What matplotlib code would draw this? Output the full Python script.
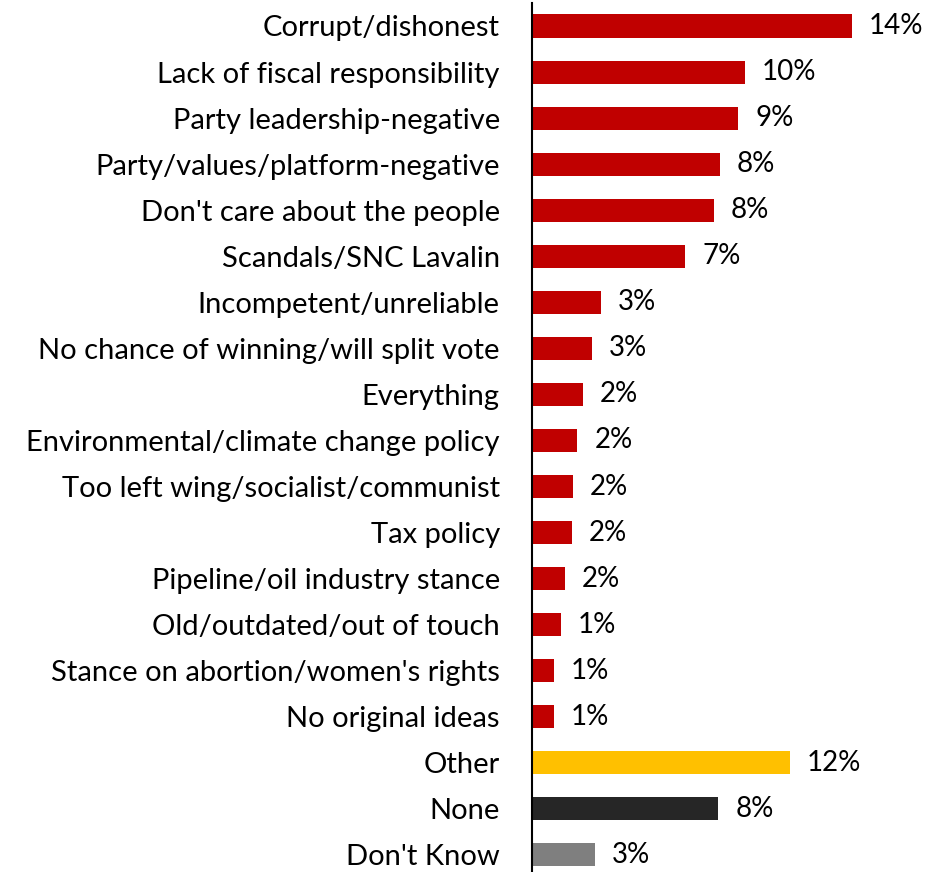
import matplotlib
import matplotlib.pyplot as plt

matplotlib.use('Agg')

categories = ['Corrupt/dishonest', 'Lack of fiscal responsibility', 'Party leadership-negative',
              'Party/values/platform-negative', "Don't care about the people", 'Scandals/SNC Lavalin',
              'Incompetent/unreliable', 'No chance of winning/will split vote', 'Everything',
              'Environmental/climate change policy', 'Too left wing/socialist/communist', 'Tax policy',
              'Pipeline/oil industry stance', 'Old/outdated/out of touch',
              "Stance on abortion/women's rights", 'No original ideas', 'Other', 'None', "Don't Know"]
values = [14.4, 9.6, 9.3, 8.45, 8.2, 6.9, 3.1, 2.7, 2.3, 2.05, 1.85, 1.8, 1.5, 1.3, 1.0, 1.0,
          11.6, 8.4, 2.85]
value_labels = ['14%', '10%', '9%', '8%', '8%', '7%', '3%', '3%', '2%', '2%', '2%', '2%', '2%',
                '1%', '1%', '1%', '12%', '8%', '3%']
colors = ['#C00000'] * 16 + ['#FFC000', '#262626', '#7F7F7F']

plt.rcParams['font.family'] = ['Lato', 'DejaVu Sans']

fig = plt.figure(figsize=(9.33, 8.72), dpi=100)
ax = fig.add_axes([0.570, 0.0, 0.381, 0.9966])

y = range(len(categories))
ax.barh(y, values, height=0.5, color=colors)
for yi, v, lab in zip(y, values, value_labels):
    ax.annotate(lab, (v, yi), xytext=(17, 0), textcoords='offset pixels',
                va='center', ha='left', fontsize=20, color='black')

ax.set_yticks(list(y))
ax.set_yticklabels(categories, fontsize=21)
ax.tick_params(axis='y', length=0, pad=23)
ax.set_xticks([])
ax.set_xlim(0, 16)
ax.set_ylim(18.37, -0.5)

for s in ['top', 'right', 'bottom']:
    ax.spines[s].set_visible(False)
ax.spines['left'].set_linewidth(1.5)
ax.spines['left'].set_color('black')

fig.savefig('out.png', dpi=100)
